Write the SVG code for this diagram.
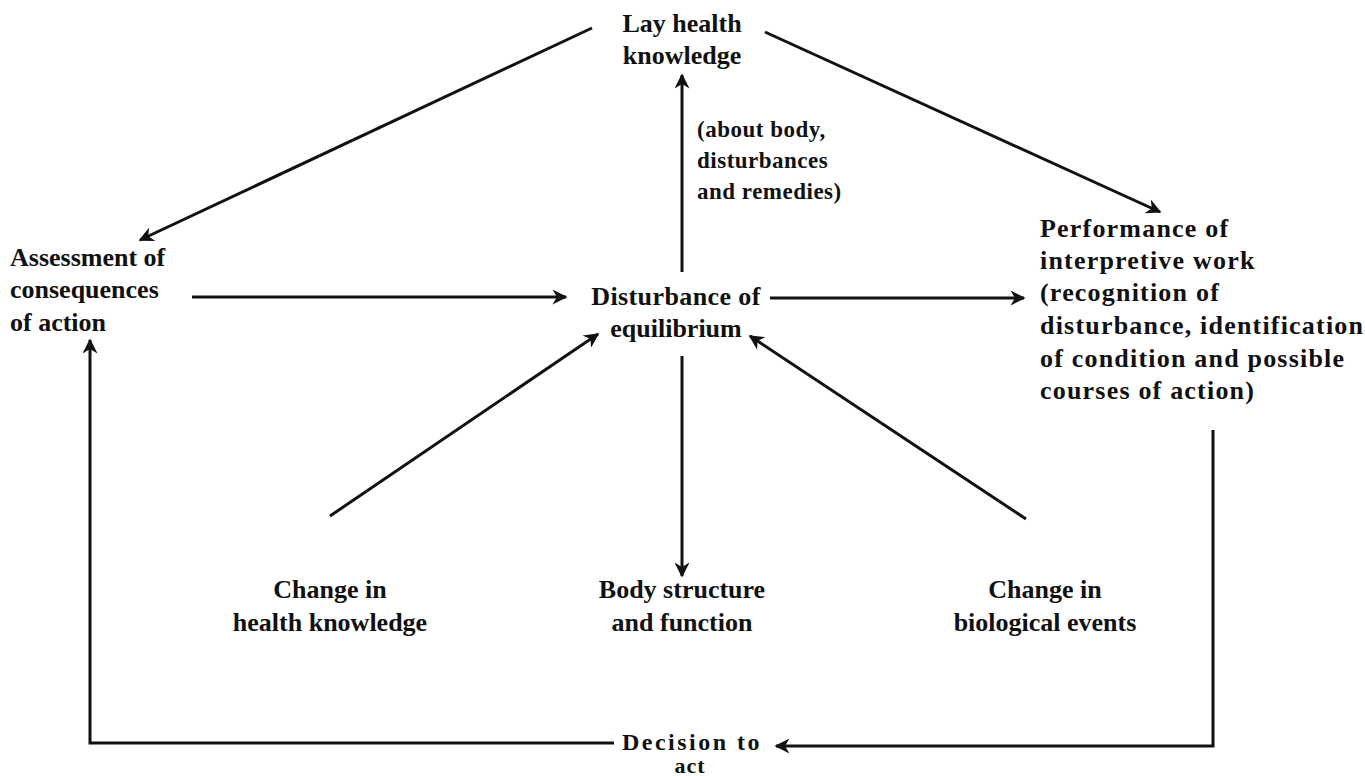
<svg xmlns="http://www.w3.org/2000/svg" width="1365" height="776" viewBox="0 0 1365 776">
<style>
text{font-family:"Liberation Serif","DejaVu Serif",serif;font-size:26px;font-weight:bold;fill:#111}
.c{text-anchor:middle}
.w{letter-spacing:1.2px}
.l{stroke:#111;stroke-width:3;fill:none}
</style>
<defs>
<marker id="ah" viewBox="0 0 10 10" refX="9" refY="5" markerWidth="6" markerHeight="5" orient="auto" markerUnits="strokeWidth">
<path d="M0,0 L10,5 L0,10 L3,5 Z" fill="#111"/>
</marker>
</defs>
<rect width="1365" height="776" fill="#fff"/>
<g id="connectors">
<line class="l" x1="592" y1="28" x2="140" y2="240" marker-end="url(#ah)"/>
<line class="l" x1="765" y1="32" x2="1160" y2="212" marker-end="url(#ah)"/>
<line class="l" x1="682" y1="272" x2="682" y2="75" marker-end="url(#ah)"/>
<line class="l" x1="192" y1="297" x2="566" y2="297" marker-end="url(#ah)"/>
<line class="l" x1="770" y1="298" x2="1024" y2="298" marker-end="url(#ah)"/>
<line class="l" x1="330" y1="516" x2="598" y2="334" marker-end="url(#ah)"/>
<line class="l" x1="682" y1="356" x2="682" y2="576" marker-end="url(#ah)"/>
<line class="l" x1="1026" y1="519" x2="750" y2="336" marker-end="url(#ah)"/>
<polyline class="l" points="1213,430 1213,746 776,746" marker-end="url(#ah)"/>
<polyline class="l" points="614,743 90,743 90,340" marker-end="url(#ah)"/>
</g>
<g id="lay"><text class="c" x="682" y="32">Lay health</text><text class="c" x="682" y="64">knowledge</text></g>
<g id="about"><text x="697" y="137" style="font-size:23px;letter-spacing:0.5px">(about body,</text><text x="697" y="168" style="font-size:23px;letter-spacing:0.5px">disturbances</text><text x="697" y="199" style="font-size:23px;letter-spacing:0.5px">and remedies)</text></g>
<g id="assess"><text x="10" y="266">Assessment of</text><text x="10" y="298">consequences</text><text x="10" y="331">of action</text></g>
<g id="disturb"><text class="c" x="676" y="305" style="letter-spacing:0.4px">Disturbance of</text><text class="c" x="676" y="337">equilibrium</text></g>
<g id="perform"><text class="w" x="1040" y="237">Performance of</text><text class="w" x="1040" y="269">interpretive work</text><text class="w" x="1040" y="301">(recognition of</text><text class="w" x="1040" y="334">disturbance, identification</text><text class="w" x="1040" y="367">of condition and possible</text><text class="w" x="1040" y="399">courses of action)</text></g>
<g id="chk"><text class="c" x="330" y="598">Change in</text><text class="c" x="330" y="631">health knowledge</text></g>
<g id="body"><text class="c" x="682" y="598">Body structure</text><text class="c" x="682" y="631">and function</text></g>
<g id="chb"><text class="c" x="1045" y="598">Change in</text><text class="c" x="1045" y="631">biological events</text></g>
<g id="decision"><text class="c" x="692" y="750" style="font-size:24px;letter-spacing:2.5px">Decision to</text><text class="c" x="690" y="773" style="font-size:22px;letter-spacing:1px">act</text></g>
</svg>
